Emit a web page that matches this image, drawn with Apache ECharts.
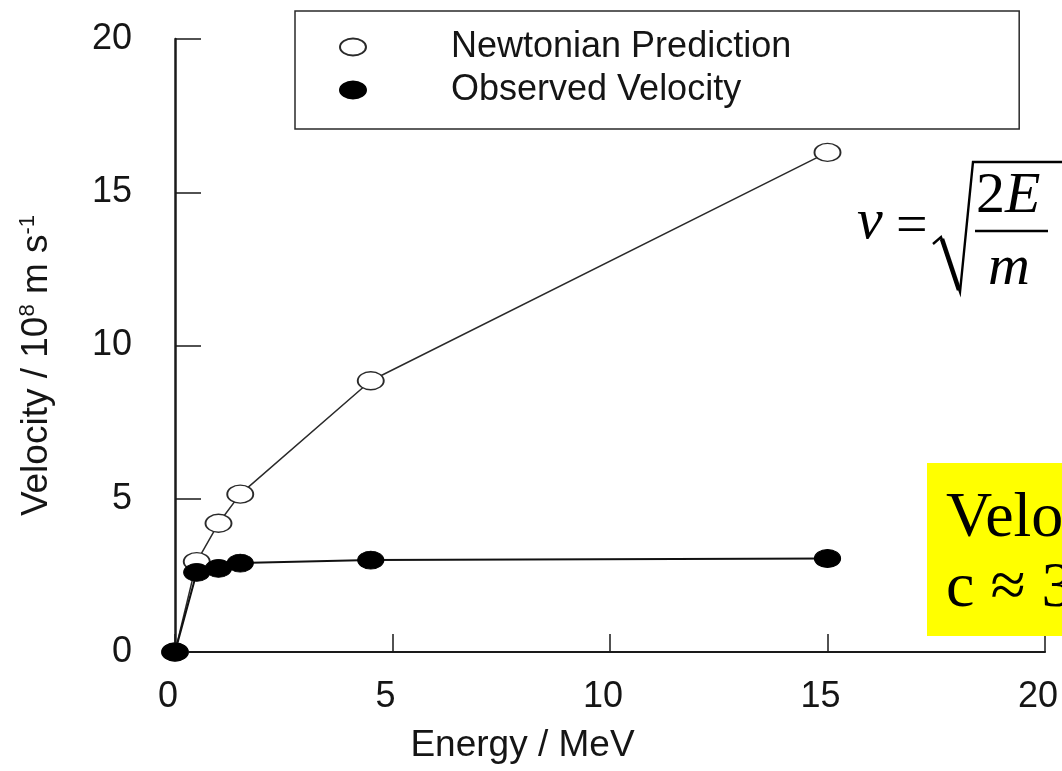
<!DOCTYPE html>
<html>
<head>
<meta charset="utf-8">
<script src="https://cdn.jsdelivr.net/npm/echarts@6/dist/echarts.min.js"></script>
<style>
html,body{margin:0;padding:0;background:#fff;}
#chart{width:1062px;height:771px;}
</style>
</head>
<body>
<div id="chart"></div>
<script>
// Data
const energyMeV = [0, 0.5, 1.0, 1.5, 4.5, 15];
const newtonianVelocity = [0, 2.95, 4.2, 5.15, 8.85, 16.3];
const observedVelocity = [0, 2.6, 2.73, 2.9, 3.0, 3.05];
const seriesNames = ['Newtonian Prediction', 'Observed Velocity'];
const xTicks = [0, 5, 10, 15, 20];
const yTicks = [0, 5, 10, 15, 20];

const sans = "'Liberation Sans', Arial, Helvetica, sans-serif";
const serif = "'Liberation Serif', 'Times New Roman', serif";
const ellipse = 'path://M1,0A1,1 0 1 1 -1,0A1,1 0 1 1 1,0Z';

const chart = echarts.init(document.getElementById('chart'), null, {renderer: 'canvas'});

const option = {
  backgroundColor: '#ffffff',
  animation: false,
  grid: {left: 175, right: 17, top: 39, bottom: 119},
  legend: {
    data: seriesNames.map(n => ({name: n, icon: ellipse})),
    orient: 'vertical',
    left: 295,
    top: 11,
    padding: [18, 228, 21, 44],
    itemGap: 7,
    itemWidth: 26,
    itemHeight: 17,
    symbolKeepAspect: false,
    borderColor: '#2a2a2a',
    borderWidth: 1.5,
    backgroundColor: '#fff',
    textStyle: {fontFamily: sans, fontSize: 36, lineHeight: 36, color: '#151515', padding: [0, 0, 0, 80]}
  },
  xAxis: {
    type: 'value',
    min: xTicks[0], max: xTicks[xTicks.length - 1], interval: 5,
    name: 'Energy / MeV',
    nameLocation: 'middle',
    nameGap: 75,
    nameTextStyle: {fontFamily: sans, fontSize: 37, color: '#151515', padding: [0, 175, 0, 0]},
    axisLine: {show: true, onZero: false, lineStyle: {color: '#1a1a1a', width: 2.2}},
    axisTick: {show: true, inside: true, length: 18, lineStyle: {color: '#1a1a1a', width: 1.5}},
    axisLabel: {fontFamily: sans, fontSize: 36, color: '#151515', margin: 27, padding: [0, 14, 0, 0]},
    splitLine: {show: false}
  },
  yAxis: {
    type: 'value',
    min: yTicks[0], max: yTicks[yTicks.length - 1], interval: 5,
    name: '{a|Velocity / 10}{s|8}{a| m s}{s|-1}',
    nameLocation: 'middle',
    nameGap: 118,
    nameTextStyle: {
      color: '#151515',
      padding: [0, 40, 0, 0],
      rich: {
        a: {fontFamily: sans, fontSize: 37, color: '#151515', lineHeight: 40},
        s: {fontFamily: sans, fontSize: 22, color: '#151515', verticalAlign: 'top', lineHeight: 22}
      }
    },
    axisLine: {show: true, onZero: false, lineStyle: {color: '#1a1a1a', width: 2.5}},
    axisTick: {show: true, inside: true, length: 26, lineStyle: {color: '#1a1a1a', width: 1.5}},
    axisLabel: {fontFamily: sans, fontSize: 36, color: '#151515', margin: 43},
    splitLine: {show: false}
  },
  series: [
    {
      name: seriesNames[0],
      type: 'line',
      data: energyMeV.map((e, i) => [e, newtonianVelocity[i]]),
      symbol: ellipse,
      symbolSize: [26, 18],
      showAllSymbol: true,
      clip: false,
      lineStyle: {color: '#2a2a2a', width: 1.5},
      itemStyle: {color: '#ffffff', borderColor: '#2a2a2a', borderWidth: 1.6},
      z: 2
    },
    {
      name: seriesNames[1],
      type: 'line',
      data: energyMeV.map((e, i) => [e, observedVelocity[i]]),
      symbol: ellipse,
      symbolSize: [26, 18],
      showAllSymbol: true,
      clip: false,
      lineStyle: {color: '#111', width: 2},
      itemStyle: {color: '#000000', borderColor: '#000000', borderWidth: 1},
      z: 3
    }
  ],
  graphic: [
    // formula v = sqrt(2E/m)
    {type: 'text', left: 857, top: 194, z: 10,
      style: {text: 'v', font: 'italic 58px ' + serif, fill: '#000'}},
    {type: 'text', left: 896, top: 200, z: 10,
      style: {text: '=', font: '56px ' + serif, fill: '#000'}},
    {type: 'polyline', z: 10,
      shape: {points: [[933, 244], [941, 237], [960, 292], [973, 162], [1062, 162]]},
      style: {stroke: '#000', lineWidth: 2.4, fill: null}},
    {type: 'line', z: 10,
      shape: {x1: 942, y1: 239, x2: 959, y2: 290},
      style: {stroke: '#000', lineWidth: 4.5}},
    {type: 'text', left: 976, top: 168, z: 10,
      style: {text: '{n|2}{i|E}', rich: {
        n: {font: '58px ' + serif, fill: '#000'},
        i: {font: 'italic 58px ' + serif, fill: '#000'}}}},
    {type: 'line', z: 10,
      shape: {x1: 975, y1: 231, x2: 1048, y2: 231},
      style: {stroke: '#000', lineWidth: 2.6}},
    {type: 'text', left: 988, top: 240, z: 10,
      style: {text: 'm', font: 'italic 58px ' + serif, fill: '#000'}},
    // yellow note box
    {type: 'rect', z: 20,
      shape: {x: 927, y: 463, width: 200, height: 173},
      style: {fill: '#ffff00', stroke: null}},
    {type: 'text', left: 946, top: 484, z: 21,
      style: {text: 'Velocity limit\nc ≈ 3 × 10⁸ m/s', font: '64px ' + serif, lineHeight: 70, fill: '#000'}}
  ]
};

chart.setOption(option);
</script>
</body>
</html>
